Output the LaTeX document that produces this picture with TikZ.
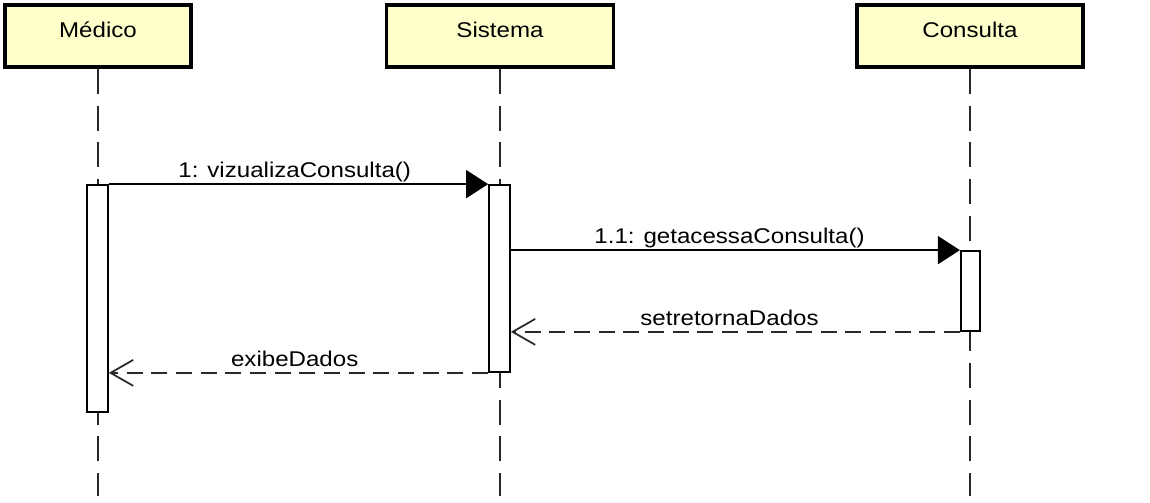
\documentclass[tikz,border=0pt]{standalone}
\usepackage{fontspec}
\setmainfont{Liberation Sans}[FakeStretch=1.13]
\usetikzlibrary{arrows.meta}
\definecolor{boxfill}{RGB}{255,255,204}
\definecolor{lifegray}{RGB}{40,40,40}
\tikzset{
  objbox/.style={draw=black, line width=2.9pt, fill=boxfill, inner sep=0pt,
    font=\fontsize{16pt}{18pt}\selectfont, text height=11.5pt, text depth=9.5pt},
  life/.style={draw=lifegray, line width=1.6pt, dash pattern=on 18.75pt off 8.8pt},
  actbox/.style={draw=black, line width=1.3pt, fill=white, inner sep=0pt},
  callmsg/.style={draw=black, line width=1.3pt, -{Triangle[length=16.5pt,width=21pt]}},
  retmsg/.style={draw=lifegray, line width=1.3pt, dash pattern=on 12pt off 6.5pt,
    -{Straight Barb[length=17pt,width=19.5pt]}},
  lbl/.style={anchor=base, yshift=4.9pt, inner sep=0pt, font=\fontsize{16pt}{18pt}\selectfont},
}
\begin{document}
\begin{tikzpicture}[x=0.75pt, y=-0.75pt]
\useasboundingbox[fill=white] (0,0) rectangle (1150,503);
% object boxes
\node[objbox, minimum width=139.5pt, minimum height=46.5pt] (mM) at (98,36) {Médico};
\node[objbox, minimum width=170.25pt, minimum height=46.5pt] (mS) at (500,36) {Sistema};
\node[objbox, minimum width=169.5pt, minimum height=46.5pt] (mC) at (970,36) {Consulta};
% lifeline ends
\coordinate (eM) at (98,496);
\coordinate (eS) at (500,496);
\coordinate (eC) at (970,496);
\draw[life] (mM.south) -- (eM);
\draw[life] (mS.south) -- (eS);
\draw[life] (mC.south) -- (eC);
% activations
\node[actbox, minimum width=15.75pt, minimum height=170.25pt] (aM) at (97.5,298.5) {};
\node[actbox, minimum width=15.75pt, minimum height=140.25pt] (aS) at (499.5,278.5) {};
\node[actbox, minimum width=14.6pt, minimum height=60pt] (aC) at (970.5,291) {};
% messages
\draw[callmsg] (aM.north east) -- node[lbl, pos=0.49]{1: vizualizaConsulta()} (aS.north west);
\draw[callmsg] (aS.east |- aC.north) -- node[lbl, pos=0.487]{1.1: getacessaConsulta()} (aC.north west);
\draw[retmsg] (aC.south west) -- node[lbl, pos=0.513]{setretornaDados} (aS.east |- aC.south);
\draw[retmsg] (aS.south west) -- node[lbl, pos=0.51]{exibeDados} (aM.east |- aS.south);
\end{tikzpicture}
\end{document}
